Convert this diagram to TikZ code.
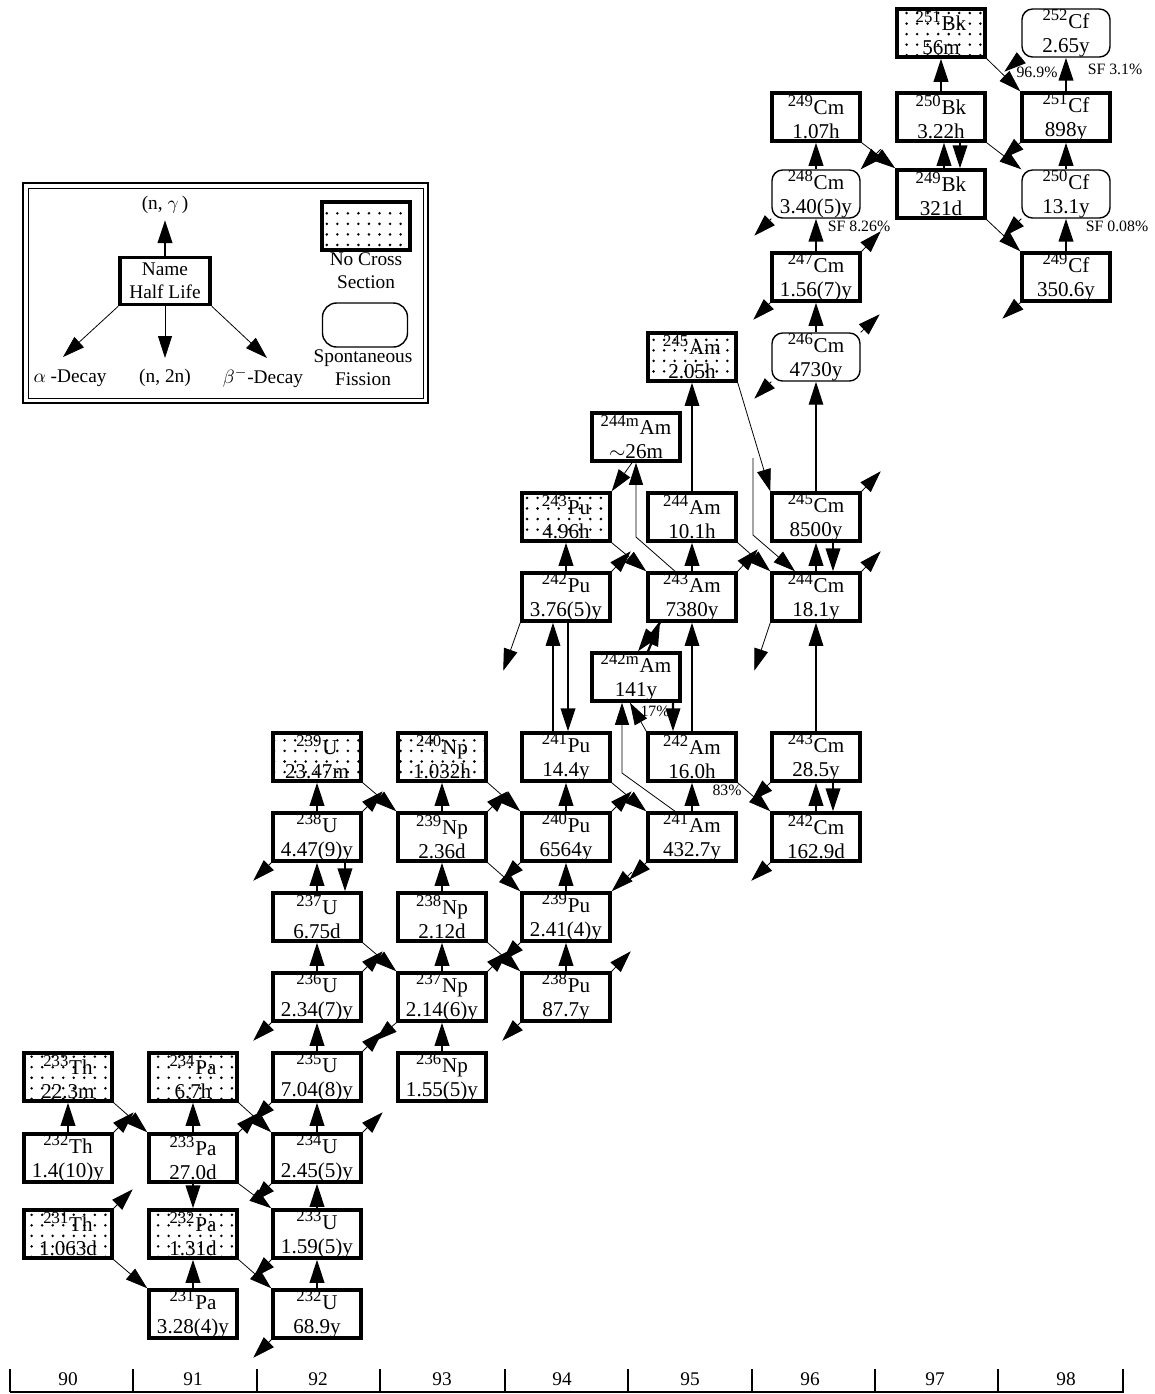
\documentclass[tikz,border=0pt]{standalone}
\usepackage{fontspec}
\setmainfont{Liberation Serif}
\usetikzlibrary{arrows.meta,patterns}
\pgfdeclarepatternformonly{sparsedots}{\pgfqpoint{-1pt}{-1pt}}{\pgfqpoint{1pt}{1pt}}{\pgfqpoint{6pt}{6pt}}{\pgfpathcircle{\pgfqpoint{0pt}{0pt}}{0.8pt}\pgfusepath{fill}}
\newcommand{\mass}[1]{\textsuperscript{\fontsize{9.5}{9.5}\selectfont #1}}

\begin{document}
\begin{tikzpicture}[x=0.02cm,y=-0.02cm,
  nuc/.style={draw,line width=2pt,minimum width=1.76cm,minimum height=0.96cm,inner sep=0pt,align=center,font=\fontsize{12}{13.6}\selectfont},
  nocs/.style={nuc,pattern=sparsedots},
  sf/.style={nuc,line width=0.8pt,rounded corners=6pt},
  ng/.style={-{Triangle[length=0.46cm,width=0.29cm]},line width=1.3pt},
  decay/.style={-{Triangle[length=0.44cm,width=0.28cm]},line width=0.45pt},
  into/.style={{Triangle[length=0.44cm,width=0.28cm]}-,line width=0.45pt},
  pct/.style={font=\fontsize{9}{10}\selectfont,inner sep=0pt},
  legtext/.style={font=\fontsize{11}{13}\selectfont,align=center,inner sep=0pt}]
\useasboundingbox (0,0) rectangle (1154,1394);

% legend
\draw[line width=1.3pt] (23,183) rectangle (428,403);
\draw[line width=0.5pt] (28,188) rectangle (423,398);
\node[nuc,minimum width=1.8cm,minimum height=0.94cm,font=\fontsize{11}{13}\selectfont] (lgbox) at (165,281) {Name\\Half Life};
\node[legtext] (lgng) at (165,205) {(n, $\gamma$\,)};
\coordinate (lga) at (63,357);
\coordinate (lgn) at (165,358);
\coordinate (lgb) at (267,358);
\draw[ng] (lgbox.north) -- ([yshift=-0.12cm]lgng.south);
\draw[decay] (lgbox.south west) -- (lga);
\draw[decay] (lgbox.south) -- (lgn);
\draw[decay] (lgbox.south east) -- (lgb);
\node[legtext] (lgal) at (70,378) {$\alpha$ -Decay};
\node[legtext] (lgnn) at (165,378) {(n, 2n)};
\node[legtext] (lgbe) at (263,378) {$\beta^-$-Decay};
\node[nocs] (lgnocs) at (366,226) {};
\node[legtext] (lgnocst) at (366,271) {No Cross\\Section};
\node[sf,minimum width=1.7cm,minimum height=0.88cm,rounded corners=8pt] (lgsf) at (365,325) {};
\node[legtext] (lgsft) at (363,368) {Spontaneous\\Fission};

% Th, Pa
\node[nocs] (th233) at (68,1077) {\mass{233}Th\\22.3m};
\node[nuc] (th232) at (68,1158) {\mass{232}Th\\1.4(10)y};
\node[nocs] (th231) at (68,1234) {\mass{231}Th\\1.063d};
\node[nocs] (pa234) at (193,1077) {\mass{234}Pa\\6.7h};
\node[nuc] (pa233) at (193,1158) {\mass{233}Pa\\27.0d};
\node[nocs] (pa232) at (193,1234) {\mass{232}Pa\\1.31d};
\node[nuc] (pa231) at (193,1314) {\mass{231}Pa\\3.28(4)y};
% U
\node[nocs] (u239) at (317,757) {\mass{239}U\\23.47m};
\node[nuc] (u238) at (317,837) {\mass{238}U\\4.47(9)y};
\node[nuc] (u237) at (317,917) {\mass{237}U\\6.75d};
\node[nuc] (u236) at (317,997) {\mass{236}U\\2.34(7)y};
\node[nuc] (u235) at (317,1077) {\mass{235}U\\7.04(8)y};
\node[nuc] (u234) at (317,1158) {\mass{234}U\\2.45(5)y};
\node[nuc] (u233) at (317,1234) {\mass{233}U\\1.59(5)y};
\node[nuc] (u232) at (317,1314) {\mass{232}U\\68.9y};
% Np
\node[nocs] (np240) at (442,757) {\mass{240}Np\\1.032h};
\node[nuc] (np239) at (442,837) {\mass{239}Np\\2.36d};
\node[nuc] (np238) at (442,917) {\mass{238}Np\\2.12d};
\node[nuc] (np237) at (442,997) {\mass{237}Np\\2.14(6)y};
\node[nuc] (np236) at (442,1077) {\mass{236}Np\\1.55(5)y};
% Pu
\node[nocs] (pu243) at (566,517) {\mass{243}Pu\\4.96h};
\node[nuc] (pu242) at (566,597) {\mass{242}Pu\\3.76(5)y};
\node[nuc] (pu241) at (566,757) {\mass{241}Pu\\14.4y};
\node[nuc] (pu240) at (566,837) {\mass{240}Pu\\6564y};
\node[nuc] (pu239) at (566,917) {\mass{239}Pu\\2.41(4)y};
\node[nuc] (pu238) at (566,997) {\mass{238}Pu\\87.7y};
% Am
\node[nocs] (am245) at (692,357) {\mass{245}Am\\2.05h};
\node[nuc] (am244m) at (636,437) {\mass{244m}Am\\$\sim$26m};
\node[nuc] (am244) at (692,517) {\mass{244}Am\\10.1h};
\node[nuc] (am243) at (692,597) {\mass{243}Am\\7380y};
\node[nuc] (am242m) at (636,677) {\mass{242m}Am\\141y};
\node[nuc] (am242) at (692,757) {\mass{242}Am\\16.0h};
\node[nuc] (am241) at (692,837) {\mass{241}Am\\432.7y};
% Cm
\node[nuc] (cm249) at (816,117) {\mass{249}Cm\\1.07h};
\node[sf] (cm248) at (816,194) {\mass{248}Cm\\3.40(5)y};
\node[nuc] (cm247) at (816,277) {\mass{247}Cm\\1.56(7)y};
\node[sf] (cm246) at (816,357) {\mass{246}Cm\\4730y};
\node[nuc] (cm245) at (816,517) {\mass{245}Cm\\8500y};
\node[nuc] (cm244) at (816,597) {\mass{244}Cm\\18.1y};
\node[nuc] (cm243) at (816,757) {\mass{243}Cm\\28.5y};
\node[nuc] (cm242) at (816,837) {\mass{242}Cm\\162.9d};
% Bk, Cf
\node[nocs] (bk251) at (941,33) {\mass{251}Bk\\56m};
\node[nuc] (bk250) at (941,117) {\mass{250}Bk\\3.22h};
\node[nuc] (bk249) at (941,194) {\mass{249}Bk\\321d};
\node[sf] (cf252) at (1066,33) {\mass{252}Cf\\2.65y};
\node[nuc] (cf251) at (1066,117) {\mass{251}Cf\\898y};
\node[sf] (cf250) at (1066,194) {\mass{250}Cf\\13.1y};
\node[nuc] (cf249) at (1066,277) {\mass{249}Cf\\350.6y};

% (n,gamma)
\draw[ng] (th232) -- (th233);
\draw[ng] (pa231) -- (pa232);
\draw[ng] (pa233) -- (pa234);
\draw[ng] (u232) -- (u233);
\draw[ng] (u233) -- (u234);
\draw[ng] (u234) -- (u235);
\draw[ng] (u235) -- (u236);
\draw[ng] (u236) -- (u237);
\draw[ng] (u237) -- (u238);
\draw[ng] (u238) -- (u239);
\draw[ng] (np236) -- (np237);
\draw[ng] (np237) -- (np238);
\draw[ng] (np238) -- (np239);
\draw[ng] (np239) -- (np240);
\draw[ng] (pu238) -- (pu239);
\draw[ng] (pu239) -- (pu240);
\draw[ng] (pu240) -- (pu241);
\draw[ng,line width=0.7pt] ([xshift=-0.26cm]pu241.north) -- ([xshift=-0.26cm]pu242.south);
\draw[ng] (pu242) -- (pu243);
\draw[ng] (am241) -- (am242);
\draw[ng,line width=0.7pt] (am242) -- (am243);
\draw[ng] (am243) -- (am244);
\draw[ng,line width=0.7pt] (am244) -- (am245);
\draw[ng] ([xshift=0.24cm]am242m.north) -- ([xshift=-0.64cm]am243.south);
\draw[ng] (cm242) -- (cm243);
\draw[ng,line width=0.7pt] (cm243) -- (cm244);
\draw[ng] (cm244) -- (cm245);
\draw[ng,line width=0.7pt] (cm245) -- (cm246);
\draw[ng] (cm246) -- (cm247);
\draw[ng] (cm247) -- (cm248);
\draw[ng] (cm248) -- (cm249);
\draw[ng] ([xshift=0.06cm]bk249.north) -- ([xshift=0.06cm]bk250.south);
\draw[ng] (bk250) -- (bk251);
\draw[ng] (cf249) -- (cf250);
\draw[ng] (cf250) -- (cf251);
\draw[ng] (cf251) -- (cf252);
% 241Am and 243Am to the isomers
\coordinate (k242) at (622,773);
\coordinate (k244) at (636,537);
\draw[decay] ([xshift=-0.34cm]am241.north) -- (k242) -- ([xshift=-0.28cm]am242m.south);
\draw[decay] ([xshift=-0.34cm]am243.north) -- (k244) -- (am244m.south);

% (n,2n)
\draw[ng] (pa233) -- (pa232);
\draw[ng] ([xshift=0.56cm]u238.south) -- ([xshift=0.56cm]u237.north);
\draw[ng] ([xshift=0.04cm]pu242.south) -- ([xshift=0.04cm]pu241.north);
\draw[ng] ([xshift=-0.64cm]am243.south) -- ([xshift=0.04cm]am242m.north);
\draw[ng] ([xshift=0.74cm]am242m.south) -- ([xshift=-0.38cm]am242.north);
\draw[ng] ([xshift=0.34cm]cm243.south) -- ([xshift=0.34cm]cm242.north);
\draw[ng] ([xshift=0.34cm]cm245.south) -- ([xshift=0.34cm]cm244.north);
\draw[ng] ([xshift=0.38cm]bk250.south) -- ([xshift=0.38cm]bk249.north);

% beta-
\draw[decay] (th233.south east) -- (pa233.north west);
\draw[decay] (th231.south east) -- (pa231.north west);
\draw[decay] (pa234.south east) -- (u234.north west);
\draw[decay] (pa233.south east) -- (u233.north west);
\draw[decay] (pa232.south east) -- (u232.north west);
\draw[decay] (u239.south east) -- (np239.north west);
\draw[decay] (u237.south east) -- (np237.north west);
\draw[decay] (np240.south east) -- (pu240.north west);
\draw[decay] (np239.south east) -- (pu239.north west);
\draw[decay] (np238.south east) -- (pu238.north west);
\draw[decay] (pu243.south east) -- (am243.north west);
\draw[decay] (pu241.south east) -- (am241.north west);
\draw[decay] (am242.south east) -- (cm242.north west);
\draw[decay] (am244.south east) -- (cm244.north west);
\draw[decay] (am245.south east) -- (cm245.north west);
\draw[decay] (am242.north west) -- ([xshift=-0.12cm]am242m.south);
\draw[decay] ([xshift=-0.08cm]am244m.south) -- (pu243.north east);
\coordinate (k244cm) at (753,458);
\coordinate (k244cmb) at (753,535);
\draw[decay] (k244cm) -- (k244cmb) -- ([xshift=-0.42cm]cm244.north);
\draw[decay] (cm249.south east) -- (bk249.north west);
\draw[decay] (bk251.south east) -- (cf251.north west);
\draw[decay] (bk250.south east) -- (cf250.north west);
\draw[decay] (bk249.south east) -- (cf249.north west);

% alpha
\draw[decay] (u238.south west) -- +(-18,18);
\draw[decay] (u236.south west) -- +(-18,18);
\draw[decay] (u235.south west) -- +(-18,18);
\draw[decay] (u234.south west) -- +(-18,18);
\draw[decay] (u233.south west) -- +(-18,18);
\draw[decay] (u232.south west) -- +(-18,18);
\draw[decay] (np237.south west) -- +(-21,18);
\draw[decay] (pu240.south west) -- +(-18,18);
\draw[decay] (pu239.south west) -- +(-18,18);
\draw[decay] (pu238.south west) -- +(-18,18);
\draw[decay] (pu242.south west) -- +(-17,48);
\draw[decay] (am241.south west) -- +(-17,17);
\draw[into] (pu239.north east) -- +(20,-19);
\draw[decay] (cm244.south west) -- +(-16,48);
\draw[decay] (cm243.south west) -- +(-19,18);
\draw[decay] (cm242.south west) -- +(-19,18);
\draw[decay] (cm246.south west) -- +(-17,17);
\draw[decay] (cm247.south west) -- +(-17,17);
\draw[decay] (cm248.south west) -- +(-17,17);
\draw[into] (cm248.north east) -- +(20,-20);
\draw[decay] (cf249.south west) -- +(-18,16);
\draw[decay] (cf250.south west) -- +(-18,18);
\draw[decay] (cf251.south west) -- +(-18,16);
\draw[decay] (cf252.south west) -- +(-17,14);

% up-right
\draw[decay] (th232.north east) -- +(20,-20);
\draw[decay] (th231.north east) -- +(19,-19);
\draw[decay] (pa233.north east) -- +(19,-19);
\draw[decay] (u238.north east) -- +(20,-20);
\draw[decay] (u236.north east) -- +(20,-20);
\draw[decay] (u235.north east) -- +(20,-20);
\draw[decay] (u234.north east) -- +(20,-20);
\draw[decay] (np239.north east) -- +(20,-20);
\draw[decay] (np237.north east) -- +(20,-20);
\draw[decay] (pu240.north east) -- +(20,-20);
\draw[decay] (pu238.north east) -- +(19,-20);
\draw[decay] (pu242.north east) -- +(19,-20);
\draw[decay] (am243.north east) -- +(20,-22);
\draw[decay] (cm244.north east) -- +(19,-20);
\draw[decay] (cm245.north east) -- +(19,-20);
\draw[decay] (cm246.north east) -- +(19,-18);
\draw[decay] (cm247.north east) -- +(19,-20);

% branch labels
\node[pct] (p17) at (655,711) {17\%};
\node[pct] (p83) at (727,790) {83\%};
\node[pct] (p969) at (1037,72) {96.9\%};
\node[pct] (sf252) at (1115,69) {SF 3.1\%};
\node[pct] (sf248) at (859,226) {SF 8.26\%};
\node[pct] (sf250) at (1117,226) {SF 0.08\%};

% Z axis
\draw[line width=1pt] (10,1392) -- (1124,1392);
\foreach \x in {10,133,257,380,505,628,752,875,998,1123}
  \draw[line width=1pt] (\x,1369) -- (\x,1392);
\foreach \z/\x in {90/68,91/193,92/318,93/442,94/562,95/690,96/810,97/935,98/1066}
  \node[font=\fontsize{11}{13}\selectfont,inner sep=0pt] (z\z) at (\x,1379) {\z};
\end{tikzpicture}
\end{document}
